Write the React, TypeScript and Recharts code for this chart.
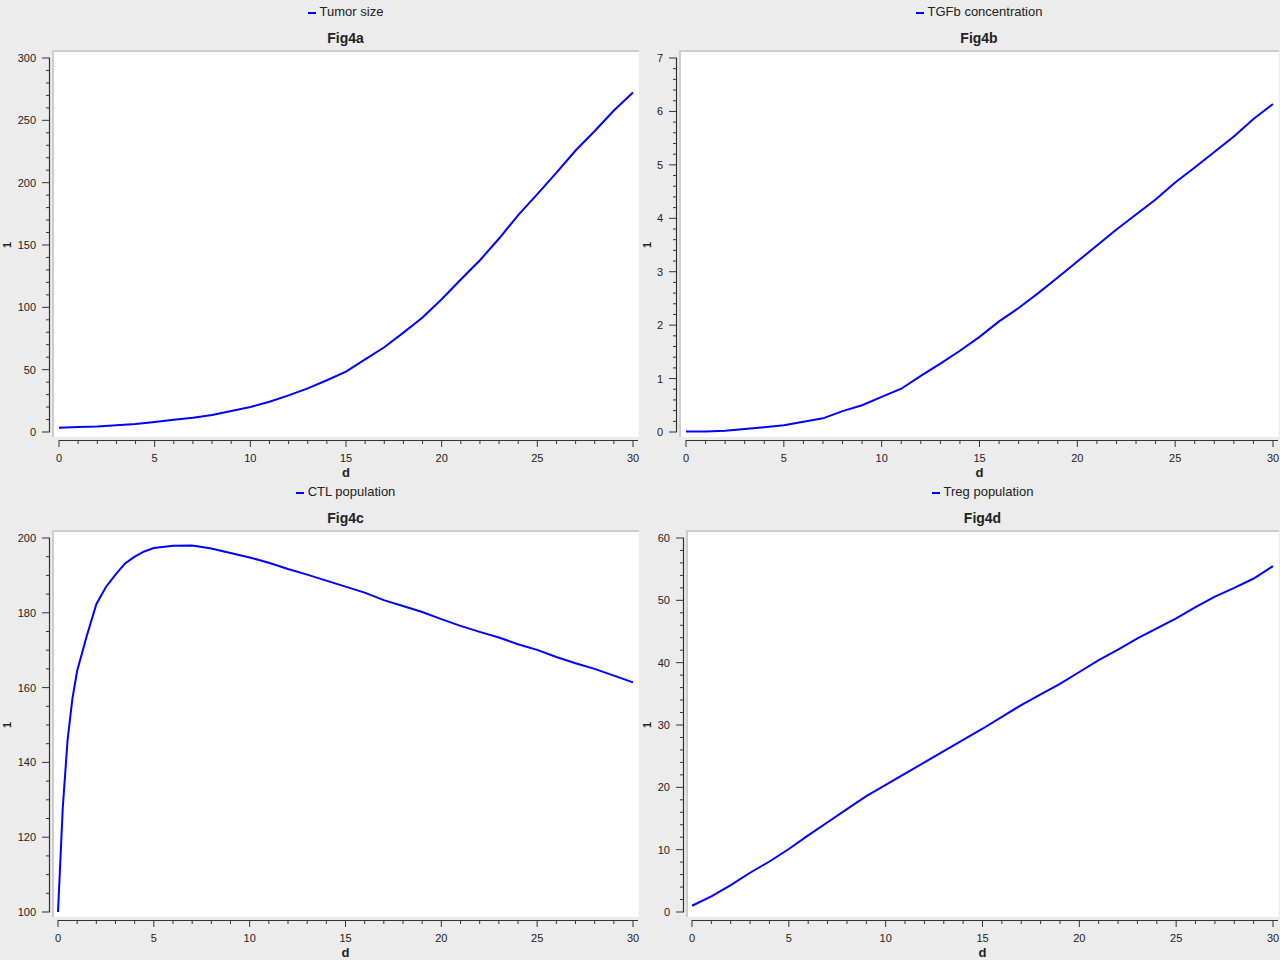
import { LineChart, Line, XAxis, YAxis, Label } from 'recharts';

// time grid (days)
const days = [0, 1, 2, 3, 4, 5, 6, 7, 8, 9, 10, 11, 12, 13, 14, 15, 16, 17, 18, 19, 20, 21, 22, 23, 24, 25, 26, 27, 28, 29, 30];
// CTL rises very fast at the start, so it is sampled finer there
const ctlDays = [0, 0.25, 0.5, 0.75, 1, 1.5, 2, 2.5, 3, 3.5, 4, 4.5, 5, 6, 7, 8, 9, 10, 11, 12, 13, 14, 15, 16, 17, 18, 19, 20, 21, 22, 23, 24, 25, 26, 27, 28, 29, 30];

// series
const tumorSize = [3.5, 4.0, 4.5, 5.4, 6.4, 8.0, 9.9, 11.5, 13.6, 16.9, 20.0, 24.3, 29.4, 35.0, 41.5, 48.4, 58.3, 68.0, 79.7, 91.8, 106.5, 122.3, 137.8, 155.2, 174.0, 190.8, 208.0, 225.8, 241.4, 257.9, 272.4];
const tgfbConc = [0.01, 0.01, 0.025, 0.056, 0.09, 0.125, 0.19, 0.256, 0.39, 0.5, 0.656, 0.81, 1.05, 1.28, 1.52, 1.78, 2.07, 2.32, 2.6, 2.89, 3.19, 3.49, 3.79, 4.07, 4.35, 4.67, 4.95, 5.24, 5.53, 5.86, 6.14];
const ctlPop = [100, 128, 146, 157, 164.5, 173.8, 182.3, 186.9, 190.2, 193.2, 195, 196.4, 197.3, 197.9, 198, 197.2, 196, 194.8, 193.4, 191.7, 190.2, 188.6, 187, 185.4, 183.4, 181.8, 180.2, 178.3, 176.5, 174.9, 173.4, 171.6, 170.1, 168.2, 166.5, 165, 163.2, 161.4];
const tregPop = [1.0, 2.5, 4.3, 6.3, 8.1, 10.1, 12.3, 14.4, 16.5, 18.6, 20.4, 22.2, 24.0, 25.8, 27.6, 29.4, 31.3, 33.2, 34.9, 36.6, 38.5, 40.4, 42.1, 43.9, 45.5, 47.1, 48.9, 50.6, 52.0, 53.5, 55.5];

// labelled (major) ticks
const dayTicks = [0, 5, 10, 15, 20, 25, 30];
const tumorTicks = [0, 50, 100, 150, 200, 250, 300];
const tgfbTicks = [0, 1, 2, 3, 4, 5, 6, 7];
const ctlTicks = [100, 120, 140, 160, 180, 200];
const tregTicks = [0, 10, 20, 30, 40, 50, 60];

const FONT = '"Liberation Sans", Arial, Helvetica, sans-serif';
const INK = '#222';
const AXIS = '#333';
const BLUE = '#0000ff';

// layout of one 640x480 panel
const PLOT_TOP = 58;
const PLOT_BOTTOM = 440;
const PAD_BOTTOM = 8;
const PLOT_RIGHT = 638;
const PAD_RIGHT = 5;

// split each major interval into `parts` minor steps
function minorTicks(major: number[], parts: number) {
  const out: number[] = [];
  for (let i = 0; i < major.length - 1; i++) {
    const step = (major[i + 1] - major[i]) / parts;
    for (let k = 0; k < parts; k++) out.push(+(major[i] + k * step).toFixed(4));
  }
  out.push(major[major.length - 1]);
  return out;
}

type PanelProps = {
  left: number;
  top: number;
  legend: string;
  title: string;
  xs: number[];
  ys: number[];
  yTicks: number[];
  yParts: number;
  axisX: number;
  padL: number;
};

function Panel({ left, top, legend, title, xs, ys, yTicks, yParts, axisX, padL }: PanelProps) {
  const data = xs.map((t, i) => ({ t, v: ys[i] }));
  const xMinor = minorTicks(dayTicks, 5);
  const yMinor = minorTicks(yTicks, yParts);
  const whiteLeft = axisX + 2;
  const whiteTop = 50;

  const xTick = (props: any) => {
    const { x, y, payload, index } = props;
    const major = dayTicks.includes(payload.value);
    return (
      <g>
        {index === 0 && <line x1={x} x2={PLOT_RIGHT} y1={y + 0.5} y2={y + 0.5} stroke={AXIS} strokeWidth={1.2} />}
        <line x1={x} x2={x} y1={y} y2={y + (major ? 7 : 4)} stroke={AXIS} />
        {major && (
          <text x={x} y={y + 22} textAnchor="middle" fontSize={11} fill={INK}>
            {payload.value}
          </text>
        )}
      </g>
    );
  };

  const yTick = (props: any) => {
    const { x, y, payload, index } = props;
    const major = yTicks.includes(payload.value);
    return (
      <g>
        {index === 0 && <line x1={x - 0.5} x2={x - 0.5} y1={y} y2={PLOT_TOP} stroke={AXIS} strokeWidth={1.2} />}
        <line x1={x - (major ? 8 : 4)} x2={x} y1={y} y2={y} stroke={AXIS} />
        {major && (
          <text x={x - 14} y={y + 4} textAnchor="end" fontSize={11} fill={INK}>
            {payload.value}
          </text>
        )}
      </g>
    );
  };

  return (
    <div style={{ position: 'absolute', left, top, width: 640, height: 480, fontFamily: FONT, color: INK }}>
      {/* white plot background */}
      <div
        style={{
          position: 'absolute',
          left: whiteLeft,
          top: whiteTop,
          width: PLOT_RIGHT + 1 - whiteLeft,
          height: 437 - whiteTop,
          background: '#fff',
          borderLeft: '2px solid #cdcdcd',
          borderTop: '2px solid #cdcdcd',
          boxSizing: 'border-box',
        }}
      />
      {/* legend */}
      <div
        style={{
          position: 'absolute',
          left: whiteLeft,
          width: PLOT_RIGHT + 1 - whiteLeft,
          top: 4,
          lineHeight: '16px',
          fontSize: 13,
          textAlign: 'center',
        }}
      >
        <span style={{ display: 'inline-block', width: 8, height: 2, background: BLUE, verticalAlign: 'middle', marginRight: 4 }} />
        {legend}
      </div>
      {/* title */}
      <div
        style={{
          position: 'absolute',
          left: whiteLeft,
          width: PLOT_RIGHT + 1 - whiteLeft,
          top: 30,
          lineHeight: '16px',
          fontSize: 14,
          fontWeight: 'bold',
          textAlign: 'center',
        }}
      >
        {title}
      </div>
      <div style={{ position: 'absolute', left: 0, top: 0 }}>
        <LineChart
          width={640}
          height={480}
          data={data}
          margin={{ top: PLOT_TOP, right: 640 - PLOT_RIGHT, bottom: 0, left: 0 }}
          style={{ fontFamily: FONT }}
        >
          <XAxis
            dataKey="t"
            type="number"
            domain={[0, 30]}
            ticks={xMinor}
            interval={0}
            padding={{ left: padL, right: PAD_RIGHT }}
            height={480 - PLOT_BOTTOM}
            axisLine={false}
            tickLine={false}
            tickSize={0}
            tickMargin={0}
            tick={xTick}
          >
            <Label
              content={(p: any) => {
                const vb = p.viewBox;
                const cx = vb.x + padL + (vb.width - padL - PAD_RIGHT) / 2;
                return (
                  <text x={cx} y={vb.y + 37} textAnchor="middle" fontSize={13} fontWeight="bold" fill={INK}>
                    d
                  </text>
                );
              }}
            />
          </XAxis>
          <YAxis
            type="number"
            domain={[yTicks[0], yTicks[yTicks.length - 1]]}
            ticks={yMinor}
            interval={0}
            width={axisX}
            padding={{ top: 0, bottom: PAD_BOTTOM }}
            axisLine={false}
            tickLine={false}
            tickSize={0}
            tickMargin={0}
            tick={yTick}
          >
            <Label
              content={(p: any) => {
                const vb = p.viewBox;
                const cy = vb.y + (vb.height - PAD_BOTTOM) / 2;
                return (
                  <text
                    x={11}
                    y={cy}
                    transform={`rotate(-90, 11, ${cy})`}
                    textAnchor="middle"
                    fontSize={11}
                    fontWeight="bold"
                    fill={INK}
                  >
                    1
                  </text>
                );
              }}
            />
          </YAxis>
          <Line
            dataKey="v"
            type="linear"
            stroke={BLUE}
            strokeWidth={2}
            dot={false}
            activeDot={false}
            isAnimationActive={false}
          />
        </LineChart>
      </div>
    </div>
  );
}

export default function App() {
  return (
    <div style={{ position: 'absolute', left: 0, top: 0, width: 1280, height: 960, background: '#ececec', overflow: 'hidden' }}>
      <Panel left={0} top={0} legend="Tumor size" title="Fig4a" xs={days} ys={tumorSize} yTicks={tumorTicks} yParts={5} axisX={50} padL={9} />
      <Panel left={640} top={0} legend="TGFb concentration" title="Fig4b" xs={days} ys={tgfbConc} yTicks={tgfbTicks} yParts={5} axisX={37} padL={9} />
      <Panel left={0} top={480} legend="CTL population" title="Fig4c" xs={ctlDays} ys={ctlPop} yTicks={ctlTicks} yParts={4} axisX={50} padL={8} />
      <Panel left={640} top={480} legend="Treg population" title="Fig4d" xs={days} ys={tregPop} yTicks={tregTicks} yParts={5} axisX={44} padL={8} />
    </div>
  );
}
